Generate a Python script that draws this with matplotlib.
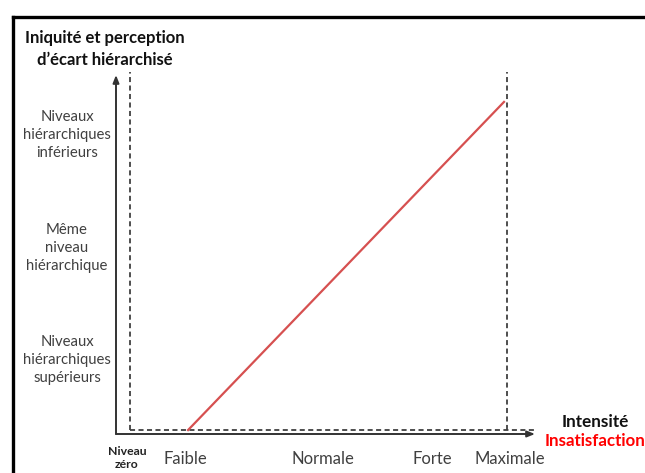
import matplotlib
matplotlib.use("Agg")
import matplotlib.pyplot as plt
from matplotlib.lines import Line2D

plt.rcParams['font.family'] = ['Lato', 'DejaVu Sans']

# axis positions are in units of the drawn axes (0 = origin, 1 = arrow tip)
x_labels = ["Faible", "Normale", "Forte", "Maximale"]
x_label_pos = [0.165, 0.494, 0.754, 0.940]
zero_label = "Niveau\nzéro"
zero_pos = 0.026

y_labels = ["Niveaux\nhiérarchiques\nsupérieurs",
            "Même\nniveau\nhiérarchique",
            "Niveaux\nhiérarchiques\ninférieurs"]
y_label_pos = [0.206, 0.518, 0.833]

# insatisfaction line (intensity -> perceived gap)
line_x = [0.172, 0.926]
line_y = [0.011, 0.925]

# dashed reference lines
zero_x = 0.033
zero_y = 0.011
max_x = 0.933
dash_top = 1.008

fig = plt.figure(figsize=(6.45, 4.73), dpi=100)
ax = fig.add_axes([116 / 645, 39 / 473, 419 / 645, 359 / 473])
ax.set_xlim(0, 1)
ax.set_ylim(0, 1)
ax.axis("off")

# frame
fig.add_artist(Line2D([13 / 645, 1], [1 - 17 / 473, 1 - 17 / 473], color="black", lw=2.4,
                      transform=fig.transFigure))
fig.add_artist(Line2D([13 / 645, 13 / 645], [0, 1 - 17 / 473], color="black", lw=2.4,
                      transform=fig.transFigure))

# axes with arrows
arrow = dict(arrowstyle="-|>,head_length=0.45,head_width=0.18", color="#333333", lw=1.4,
             shrinkA=0, shrinkB=0)
ax.annotate("", xy=(1, 0), xytext=(0, 0), arrowprops=arrow, annotation_clip=False)
ax.annotate("", xy=(0, 1), xytext=(0, 0), arrowprops=arrow, annotation_clip=False)

dash = dict(color="#404040", lw=1.3, linestyle=(0, (2.8, 1.9)), clip_on=False)
ax.plot([zero_x, zero_x], [zero_y, dash_top], **dash)
ax.plot([zero_x, 1.0], [zero_y, zero_y], **dash)
ax.plot([max_x, max_x], [zero_y, dash_top], **dash)

ax.plot(line_x, line_y, color="#d65050", lw=1.6, clip_on=False)

# tick labels
for lab, p in zip(x_labels, x_label_pos):
    ax.text(p, -0.07, lab, ha="center", va="center", fontsize=12, color="#404040")
ax.text(zero_pos, -0.067, zero_label, ha="center", va="center", fontsize=8.8,
        fontweight="bold", color="#222222", linespacing=1.25)

for lab, p in zip(y_labels, y_label_pos):
    ax.text(-0.117, p, lab, ha="center", va="center", fontsize=10.7, color="#404040",
            linespacing=1.38)

ax.text(-0.026, 1.072, "Iniquité et perception\nd\u2019écart hiérarchisé", ha="center",
        va="center", fontsize=12, fontweight="bold", color="#111111", linespacing=1.45)

ax.text(1.143, 0.033, "Intensité", ha="center", va="center", fontsize=12.3,
        fontweight="bold", color="#111111")
ax.text(1.143, -0.02, "Insatisfaction", ha="center", va="center", fontsize=12.2,
        fontweight="bold", color="#ff0000")

fig.savefig("out.png", dpi=100)
